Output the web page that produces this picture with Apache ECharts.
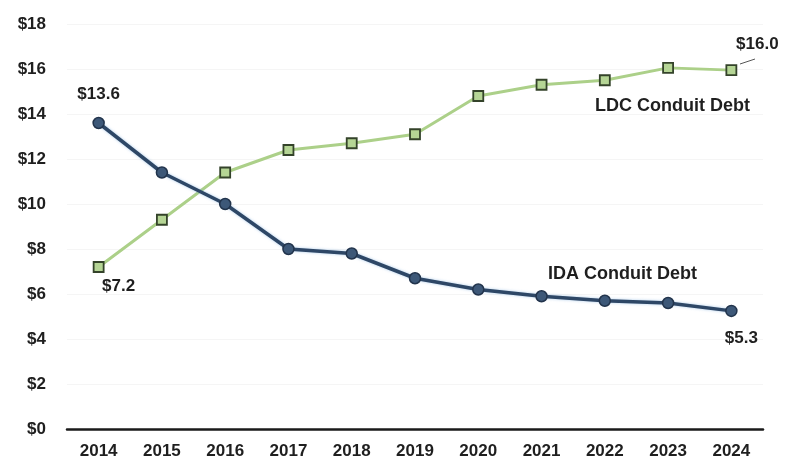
<!DOCTYPE html>
<html><head><meta charset="utf-8">
<script src="https://cdn.jsdelivr.net/npm/echarts@6/dist/echarts.min.js"></script>
<style>html,body{margin:0;padding:0;background:#fff}#c{width:786px;height:470px}</style>
</head><body><div id="c"></div>
<script>
const years = ['2014','2015','2016','2017','2018','2019','2020','2021','2022','2023','2024'];
const ldcDebt = [7.2, 9.3, 11.4, 12.4, 12.7, 13.1, 14.8, 15.3, 15.5, 16.05, 15.95];
const idaDebt = [13.6, 11.4, 10.0, 8.0, 7.8, 6.7, 6.2, 5.9, 5.7, 5.6, 5.25];
const ldcLabels = {0: '$7.2', 10: '$16.0'};
const idaLabels = {0: '$13.6', 10: '$5.3'};
const yTicks = [0, 2, 4, 6, 8, 10, 12, 14, 16, 18];

const FONT = '"Liberation Sans", Arial, sans-serif';
const labelStyle = {fontFamily: FONT, fontWeight: 'bold', fontSize: 17, color: '#1f1f1f'};

function build(vals, labels, offsets) {
  return vals.map((v, i) => {
    if (labels[i] === undefined) return v;
    return {value: v, label: Object.assign({show: true, formatter: labels[i], position: 'inside', offset: offsets[i]}, labelStyle)};
  });
}

const chart = echarts.init(document.getElementById('c'));
chart.setOption({
  animation: false,
  grid: {left: 67, right: 23, top: 24, bottom: 41},
  xAxis: {
    type: 'category', data: years, boundaryGap: true,
    axisLine: {lineStyle: {color: '#1a1a1a', width: 2.5}},
    axisTick: {show: false},
    axisLabel: Object.assign({margin: 14}, labelStyle)
  },
  yAxis: {
    type: 'value', min: yTicks[0], max: yTicks[yTicks.length - 1], interval: 2,
    axisLine: {show: false}, axisTick: {show: false},
    splitLine: {lineStyle: {color: '#f5f5f5', width: 1}},
    axisLabel: Object.assign({margin: 21, formatter: v => '$' + v}, labelStyle)
  },
  series: [
    {
      name: 'LDC Conduit Debt', type: 'line',
      data: build(ldcDebt, ldcLabels, {0: [20, 19], 10: [26, -26]}),
      symbol: 'rect', symbolSize: 10,
      lineStyle: {color: '#acd089', width: 3},
      itemStyle: {color: '#b5d595', borderColor: '#34432a', borderWidth: 1.8},
      z: 2
    },
    {
      name: 'IDA Conduit Debt', type: 'line',
      data: build(idaDebt, idaLabels, {0: [0, -29], 10: [10, 27]}),
      symbol: 'circle', symbolSize: 11,
      lineStyle: {color: '#2e4766', width: 3.5, shadowColor: 'rgba(120,170,220,0.6)', shadowBlur: 3},
      itemStyle: {color: '#3d5878', borderColor: '#22344c', borderWidth: 1.5},
      z: 3
    }
  ],
  graphic: [
    {type: 'text', left: 595, top: 97, style: {text: 'LDC Conduit Debt', font: 'bold 18px ' + FONT, fill: '#1f1f1f'}},
    {type: 'text', left: 548, top: 265, style: {text: 'IDA Conduit Debt', font: 'bold 18px ' + FONT, fill: '#1f1f1f'}},
    {type: 'line', shape: {x1: 740, y1: 64, x2: 755, y2: 59}, style: {stroke: '#555', lineWidth: 1}}
  ]
});
</script>
</body></html>
